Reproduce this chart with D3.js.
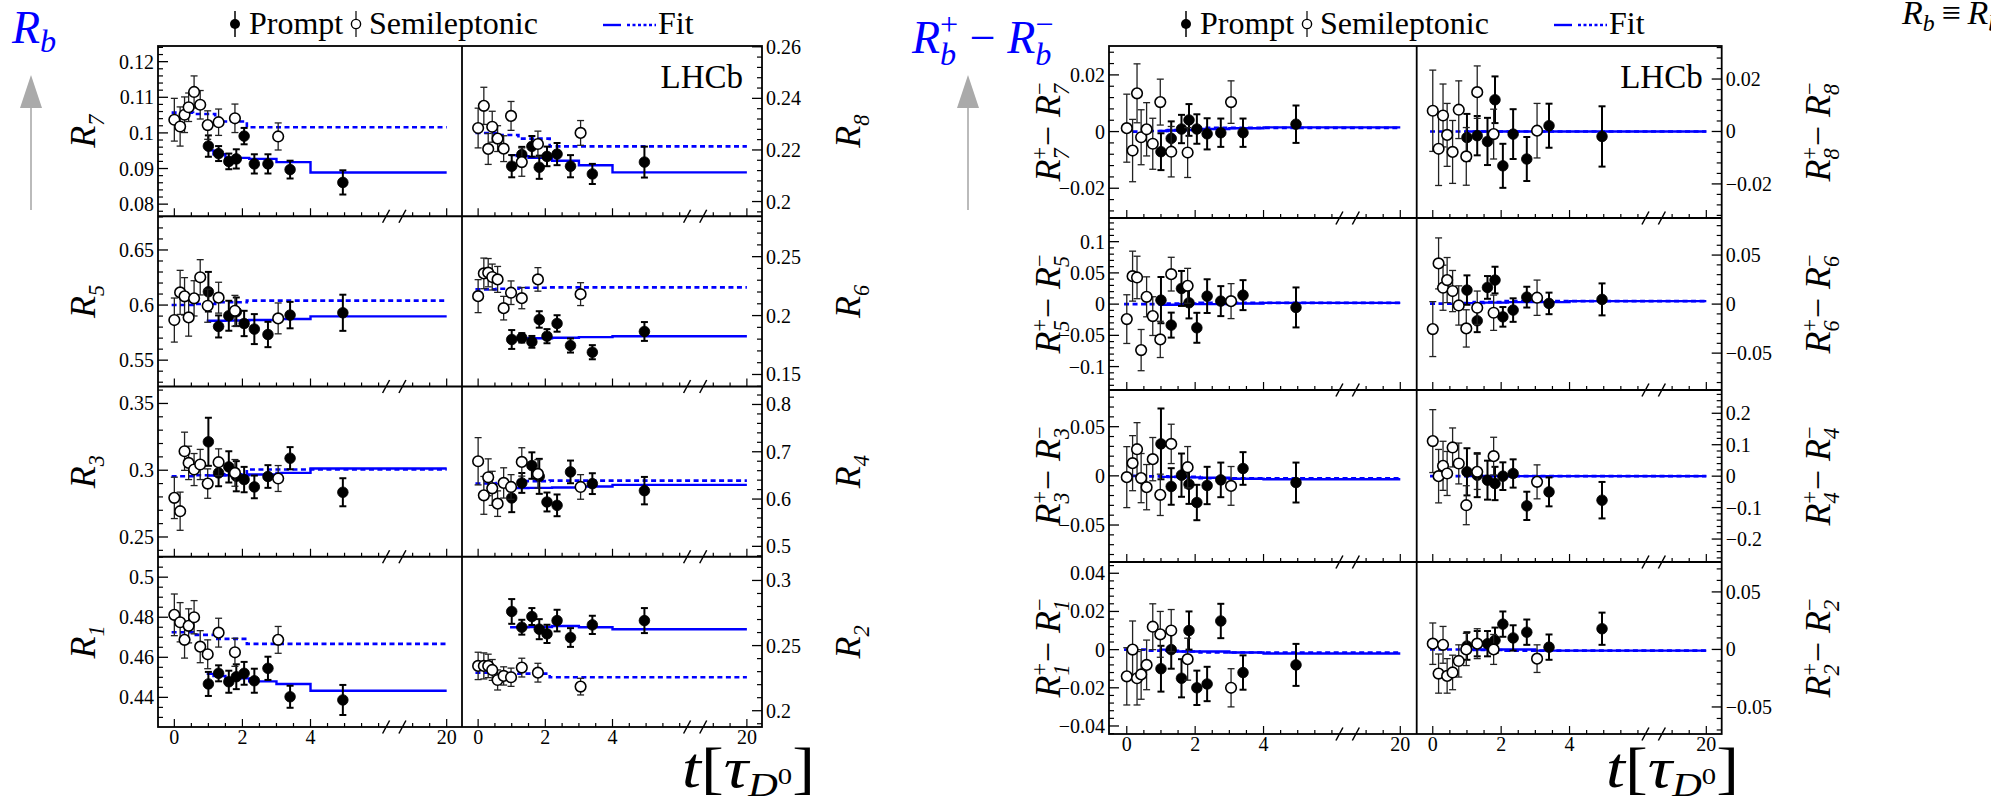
<!DOCTYPE html>
<html><head><meta charset="utf-8">
<script src="https://cdn.jsdelivr.net/npm/d3@7"></script>
<style>body{margin:0;background:#fff;} svg{display:block;font-family:"Liberation Serif","Times New Roman",serif;}</style>
</head><body><svg id="c" width="1991" height="801"></svg>
<script>
// ---------- data ----------
const semiT   = [0.0, 0.17, 0.3, 0.42, 0.58, 0.76, 0.98, 1.3, 1.78, 3.05];
const promptT = [1.0, 1.3, 1.6, 1.82, 2.05, 2.35, 2.75, 3.4, 4.95];
const edgesPrompt = [0.95, 1.15, 1.5, 2.2, 3.0, 4.0, 20];
const edgesSemi   = [-0.08, 0.55, 1.2, 2.13, 20];
const xTickVals = [0, 2, 4, 20];
const xTickText = ["0", "2", "4", "20"];

const R7_semi = [0.1037, 0.1018, 0.1051, 0.1072, 0.1115, 0.1079, 0.1022, 0.1030, 0.1041, 0.0990];
const R7_semiErr = [0.0060, 0.0055, 0.0050, 0.0040, 0.0045, 0.0040, 0.0040, 0.0037, 0.0040, 0.0038];
const R7_prompt = [0.0963, 0.0942, 0.0920, 0.0927, 0.0991, 0.0913, 0.0913, 0.0897, 0.0861];
const R7_promptErr = [0.0030, 0.0021, 0.0022, 0.0027, 0.0023, 0.0027, 0.0027, 0.0025, 0.0034];
const R7_fitPrompt = [0.0951, 0.0940, 0.0930, 0.0927, 0.0918, 0.0889];
const R7_fitSemi = [0.1057, 0.1053, 0.1032, 0.1016];

const R8_semi = [0.2285, 0.2371, 0.2204, 0.2290, 0.2244, 0.2205, 0.2332, 0.2153, 0.2223, 0.2266];
const R8_semiErr = [0.0077, 0.0072, 0.006, 0.006, 0.005, 0.005, 0.0056, 0.0055, 0.005, 0.0048];
const R8_prompt = [0.2137, 0.2182, 0.2214, 0.2133, 0.2175, 0.2184, 0.2137, 0.2107, 0.2153];
const R8_promptErr = [0.0043, 0.003, 0.004, 0.0045, 0.0038, 0.0043, 0.0043, 0.0039, 0.006];
const R8_fitPrompt = [0.2180, 0.2176, 0.2170, 0.2158, 0.2141, 0.2113];
const R8_fitSemi = [0.2266, 0.2258, 0.2244, 0.2214];

const R5_semi = [0.5864, 0.6115, 0.6079, 0.5888, 0.6061, 0.6252, 0.5994, 0.6067, 0.5948, 0.5879];
const R5_semiErr = [0.020, 0.020, 0.017, 0.017, 0.016, 0.016, 0.015, 0.014, 0.014, 0.014];
const R5_prompt = [0.6121, 0.5806, 0.5903, 0.5939, 0.5833, 0.5782, 0.5733, 0.5909, 0.5930];
const R5_promptErr = [0.018, 0.010, 0.0136, 0.013, 0.0115, 0.0136, 0.0115, 0.012, 0.0164];
const R5_fitPrompt = [0.5857, 0.5858, 0.5860, 0.5865, 0.5873, 0.5897];
const R5_fitSemi = [0.6000, 0.6010, 0.6025, 0.6040];

const R6_semi = [0.2165, 0.2358, 0.2364, 0.2327, 0.2307, 0.2063, 0.2194, 0.2148, 0.2307, 0.2182];
const R6_semiErr = [0.014, 0.013, 0.012, 0.011, 0.011, 0.010, 0.010, 0.009, 0.010, 0.0097];
const R6_prompt = [0.1797, 0.1811, 0.1777, 0.1967, 0.1825, 0.1933, 0.1746, 0.1689, 0.1865];
const R6_promptErr = [0.008, 0.004, 0.005, 0.007, 0.006, 0.007, 0.006, 0.006, 0.008];
const R6_fitPrompt = [0.1800, 0.1803, 0.1808, 0.1812, 0.1817, 0.1825];
const R6_fitSemi = [0.2222, 0.2228, 0.2236, 0.2239];

const R3_semi = [0.2793, 0.2693, 0.3142, 0.3055, 0.3005, 0.3043, 0.2900, 0.3060, 0.2980, 0.2938];
const R3_semiErr = [0.0155, 0.0143, 0.0143, 0.0125, 0.012, 0.0113, 0.011, 0.010, 0.010, 0.0097];
const R3_prompt = [0.3213, 0.2980, 0.3025, 0.2955, 0.2930, 0.2875, 0.2953, 0.3090, 0.2835];
const R3_promptErr = [0.018, 0.010, 0.0117, 0.0113, 0.0095, 0.0085, 0.0085, 0.0083, 0.0105];
const R3_fitPrompt = [0.2960, 0.2960, 0.2962, 0.2968, 0.2980, 0.3013];
const R3_fitSemi = [0.2955, 0.2962, 0.2970, 0.3005];

const R4_semi = [0.6799, 0.6078, 0.6460, 0.6227, 0.5903, 0.6341, 0.6256, 0.6785, 0.6532, 0.6256];
const R4_semiErr = [0.050, 0.040, 0.039, 0.036, 0.027, 0.032, 0.026, 0.030, 0.030, 0.026];
const R4_prompt = [0.6023, 0.6341, 0.6708, 0.6480, 0.5938, 0.5867, 0.6574, 0.6326, 0.6178];
const R4_promptErr = [0.030, 0.021, 0.028, 0.037, 0.020, 0.023, 0.024, 0.022, 0.029];
const R4_fitPrompt = [0.6235, 0.6235, 0.6237, 0.6245, 0.6265, 0.6300];
const R4_fitSemi = [0.6330, 0.6340, 0.6380, 0.6390];

const R1_semi = [0.4812, 0.4775, 0.4687, 0.4757, 0.4800, 0.4653, 0.4615, 0.4723, 0.4625, 0.4687];
const R1_semiErr = [0.0104, 0.0098, 0.0091, 0.0085, 0.0083, 0.008, 0.0072, 0.0072, 0.007, 0.0067];
const R1_prompt = [0.4467, 0.4520, 0.4478, 0.4503, 0.4520, 0.4483, 0.4545, 0.4403, 0.4387];
const R1_promptErr = [0.006, 0.004, 0.0055, 0.0062, 0.0057, 0.006, 0.0058, 0.0055, 0.0075];
const R1_fitPrompt = [0.4517, 0.4507, 0.4495, 0.4480, 0.4467, 0.4433];
const R1_fitSemi = [0.4725, 0.4712, 0.4692, 0.4667];

const R2_semi = [0.2344, 0.2344, 0.2344, 0.2313, 0.2236, 0.2267, 0.2257, 0.2331, 0.2292, 0.2185];
const R2_semiErr = [0.0105, 0.010, 0.009, 0.008, 0.0077, 0.007, 0.007, 0.0072, 0.0072, 0.0064];
const R2_prompt = [0.2762, 0.2641, 0.2723, 0.2626, 0.2590, 0.2692, 0.2562, 0.2659, 0.2692];
const R2_promptErr = [0.0095, 0.0057, 0.0065, 0.0077, 0.007, 0.0083, 0.0072, 0.007, 0.0096];
const R2_fitPrompt = [0.2641, 0.2641, 0.2643, 0.2650, 0.2641, 0.2626];
const R2_fitSemi = [0.2292, 0.2290, 0.2285, 0.2257];

const dR7_semi = [0.0012, -0.0067, 0.0135, -0.0020, 0.0008, -0.0043, 0.0104, -0.0071, -0.0074, 0.0104];
const dR7_semiErr = [0.012, 0.011, 0.0104, 0.0097, 0.0094, 0.009, 0.0081, 0.0089, 0.0088, 0.0075];
const dR7_prompt = [-0.0071, -0.0024, 0.0009, 0.0041, 0.0009, -0.0008, -0.0004, -0.0004, 0.0026];
const dR7_promptErr = [0.0065, 0.006, 0.005, 0.0056, 0.0052, 0.0055, 0.005, 0.005, 0.0066];
const dR7_fitPrompt = [0.0002, 0.0004, 0.0006, 0.0009, 0.0012, 0.0015];
const dR7_fitSemi = [0.0000, 0.0002, 0.0005, 0.0013];

const dR8_semi = [0.0079, -0.0066, 0.0061, -0.0013, -0.0078, 0.0083, -0.0095, 0.0150, -0.0010, 0.0003];
const dR8_semiErr = [0.0155, 0.014, 0.012, 0.012, 0.012, 0.011, 0.011, 0.010, 0.0095, 0.0104];
const dR8_prompt = [-0.0023, -0.0016, -0.0038, 0.0121, -0.0131, -0.0010, -0.0105, 0.0022, -0.0019];
const dR8_promptErr = [0.009, 0.0075, 0.009, 0.0089, 0.0084, 0.0095, 0.0084, 0.0084, 0.0115];
const dR8_fitPrompt = [0.0, 0.0, 0.0, 0.0, 0.0, 0.0];
const dR8_fitSemi = [0.0, 0.0, 0.0, 0.0];

const dR5_semi = [-0.0240, 0.0448, 0.0427, -0.0736, 0.0117, -0.0192, -0.0565, 0.0480, 0.0293, 0.0048];
const dR5_semiErr = [0.039, 0.040, 0.034, 0.033, 0.032, 0.031, 0.029, 0.027, 0.028, 0.028];
const dR5_prompt = [0.0064, -0.0336, 0.0251, 0.0021, -0.0379, 0.0128, 0.0048, 0.0144, -0.0053];
const dR5_promptErr = [0.037, 0.020, 0.028, 0.025, 0.024, 0.027, 0.024, 0.024, 0.032];
const dR5_fitPrompt = [-0.001, -0.001, 0.000, 0.000, 0.001, 0.002];
const dR5_fitSemi = [0.000, 0.000, 0.001, 0.002];

const dR6_semi = [-0.0255, 0.0415, 0.0167, 0.0245, 0.0133, -0.0014, -0.0248, -0.0037, -0.0088, 0.0065];
const dR6_semiErr = [0.028, 0.026, 0.023, 0.023, 0.021, 0.020, 0.019, 0.017, 0.018, 0.018];
const dR6_prompt = [0.0143, -0.0170, 0.0170, 0.0245, -0.0130, -0.0061, 0.0071, 0.0007, 0.0048];
const dR6_promptErr = [0.015, 0.0116, 0.0116, 0.0136, 0.010, 0.012, 0.0106, 0.011, 0.0163];
const dR6_fitPrompt = [0.001, 0.001, 0.0015, 0.002, 0.002, 0.003];
const dR6_fitSemi = [0.0005, 0.001, 0.002, 0.003];

const dR3_semi = [-0.0013, 0.0129, 0.0271, -0.0023, -0.0115, 0.0170, -0.0193, 0.0325, 0.0088, -0.0102];
const dR3_semiErr = [0.031, 0.028, 0.027, 0.025, 0.023, 0.022, 0.021, 0.020, 0.021, 0.0197];
const dR3_prompt = [0.0325, -0.0108, 0.0007, -0.0085, -0.0271, -0.0098, -0.0041, 0.0075, -0.0068];
const dR3_promptErr = [0.036, 0.0186, 0.022, 0.020, 0.018, 0.019, 0.0176, 0.0166, 0.0203];
const dR3_fitPrompt = [-0.001, -0.001, -0.0015, -0.002, -0.003, -0.0035];
const dR3_fitSemi = [0.000, -0.0005, -0.001, -0.0025];

const dR4_semi = [0.1115, 0.0000, 0.0329, 0.0085, 0.0913, 0.0403, -0.0924, 0.0138, 0.0637, -0.0181];
const dR4_semiErr = [0.100, 0.085, 0.078, 0.070, 0.062, 0.065, 0.062, 0.056, 0.060, 0.054];
const dR4_prompt = [0.0138, 0.0032, -0.0127, -0.0233, 0.0000, 0.0085, -0.0945, -0.0500, -0.0764];
const dR4_promptErr = [0.075, 0.070, 0.062, 0.053, 0.044, 0.045, 0.045, 0.046, 0.058];
const dR4_fitPrompt = [0.0, 0.0, 0.0, 0.0, 0.0, 0.0];
const dR4_fitSemi = [0.0, 0.0, 0.0, 0.0];

const dR1_semi = [-0.014, 0.000, -0.015, -0.013, -0.008, 0.012, 0.008, 0.010, -0.005, -0.020];
const dR1_semiErr = [0.015, 0.015, 0.014, 0.013, 0.013, 0.012, 0.012, 0.011, 0.011, 0.010];
const dR1_prompt = [-0.010, 0.000, -0.015, 0.010, -0.020, -0.018, 0.015, -0.012, -0.008];
const dR1_promptErr = [0.012, 0.010, 0.010, 0.010, 0.009, 0.009, 0.009, 0.009, 0.011];
const dR1_fitPrompt = [0.000, -0.0005, -0.001, -0.001, -0.0015, -0.002];
const dR1_fitSemi = [0.000, -0.0005, -0.001, -0.0015];

const dR2_semi = [0.005, -0.021, 0.004, -0.023, -0.020, -0.010, 0.000, 0.005, 0.000, -0.008];
const dR2_semiErr = [0.018, 0.017, 0.016, 0.015, 0.015, 0.014, 0.014, 0.013, 0.013, 0.012];
const dR2_prompt = [0.003, 0.005, 0.005, 0.008, 0.022, 0.010, 0.015, 0.002, 0.018];
const dR2_promptErr = [0.012, 0.011, 0.011, 0.011, 0.011, 0.011, 0.011, 0.011, 0.014];
const dR2_fitPrompt = [0.000, 0.000, 0.000, 0.000, -0.001, -0.001];
const dR2_fitSemi = [0.000, 0.000, -0.0005, -0.001];

// axis ranges per sub-plot: [min, max, major step, minor step]
const axisR7 = [0.0766, 0.1244, 0.01, 0.002];
const axisR8 = [0.1943, 0.2603, 0.02, 0.004];
const axisR5 = [0.5261, 0.6806, 0.05, 0.01];
const axisR6 = [0.1398, 0.2843, 0.05, 0.01];
const axisR3 = [0.2352, 0.3627, 0.05, 0.01];
const axisR4 = [0.478, 0.838, 0.1, 0.02];
const axisR1 = [0.4252, 0.5102, 0.02, 0.005];
const axisR2 = [0.1875, 0.3182, 0.05, 0.01];
const axisdR7 = [-0.0305, 0.0302, 0.02, 0.004];
const axisdR8 = [-0.0330, 0.0326, 0.02, 0.004];
const axisdR5 = [-0.1375, 0.1379, 0.05, 0.01];
const axisdR6 = [-0.0876, 0.0878, 0.05, 0.01];
const axisdR3 = [-0.0876, 0.0873, 0.05, 0.01];
const axisdR4 = [-0.273, 0.274, 0.1, 0.02];
const axisdR1 = [-0.0442, 0.0459, 0.02, 0.004];
const axisdR2 = [-0.0735, 0.0760, 0.05, 0.01];

const plotsLeft  = ["R7","R8","R5","R6","R3","R4","R1","R2"];
const plotsRight = ["dR7","dR8","dR5","dR6","dR3","dR4","dR1","dR2"];
const labelIndex = ["7","8","5","6","3","4","1","2"];

const DATA = {
 R7:{s:R7_semi,se:R7_semiErr,p:R7_prompt,pe:R7_promptErr,fp:R7_fitPrompt,fs:R7_fitSemi,ax:axisR7},
 R8:{s:R8_semi,se:R8_semiErr,p:R8_prompt,pe:R8_promptErr,fp:R8_fitPrompt,fs:R8_fitSemi,ax:axisR8},
 R5:{s:R5_semi,se:R5_semiErr,p:R5_prompt,pe:R5_promptErr,fp:R5_fitPrompt,fs:R5_fitSemi,ax:axisR5},
 R6:{s:R6_semi,se:R6_semiErr,p:R6_prompt,pe:R6_promptErr,fp:R6_fitPrompt,fs:R6_fitSemi,ax:axisR6},
 R3:{s:R3_semi,se:R3_semiErr,p:R3_prompt,pe:R3_promptErr,fp:R3_fitPrompt,fs:R3_fitSemi,ax:axisR3},
 R4:{s:R4_semi,se:R4_semiErr,p:R4_prompt,pe:R4_promptErr,fp:R4_fitPrompt,fs:R4_fitSemi,ax:axisR4},
 R1:{s:R1_semi,se:R1_semiErr,p:R1_prompt,pe:R1_promptErr,fp:R1_fitPrompt,fs:R1_fitSemi,ax:axisR1},
 R2:{s:R2_semi,se:R2_semiErr,p:R2_prompt,pe:R2_promptErr,fp:R2_fitPrompt,fs:R2_fitSemi,ax:axisR2},
 dR7:{s:dR7_semi,se:dR7_semiErr,p:dR7_prompt,pe:dR7_promptErr,fp:dR7_fitPrompt,fs:dR7_fitSemi,ax:axisdR7},
 dR8:{s:dR8_semi,se:dR8_semiErr,p:dR8_prompt,pe:dR8_promptErr,fp:dR8_fitPrompt,fs:dR8_fitSemi,ax:axisdR8},
 dR5:{s:dR5_semi,se:dR5_semiErr,p:dR5_prompt,pe:dR5_promptErr,fp:dR5_fitPrompt,fs:dR5_fitSemi,ax:axisdR5},
 dR6:{s:dR6_semi,se:dR6_semiErr,p:dR6_prompt,pe:dR6_promptErr,fp:dR6_fitPrompt,fs:dR6_fitSemi,ax:axisdR6},
 dR3:{s:dR3_semi,se:dR3_semiErr,p:dR3_prompt,pe:dR3_promptErr,fp:dR3_fitPrompt,fs:dR3_fitSemi,ax:axisdR3},
 dR4:{s:dR4_semi,se:dR4_semiErr,p:dR4_prompt,pe:dR4_promptErr,fp:dR4_fitPrompt,fs:dR4_fitSemi,ax:axisdR4},
 dR1:{s:dR1_semi,se:dR1_semiErr,p:dR1_prompt,pe:dR1_promptErr,fp:dR1_fitPrompt,fs:dR1_fitSemi,ax:axisdR1},
 dR2:{s:dR2_semi,se:dR2_semiErr,p:dR2_prompt,pe:dR2_promptErr,fp:dR2_fitPrompt,fs:dR2_fitSemi,ax:axisdR2}
};

// ---------- layout ----------
const BLUE = "#0000ff";
const svg = d3.select("#c");
const panelL = {x0:158, xm:462, x1:762, y0:46, y1:727, colDom:[[-0.48,8.45],[-0.48,8.45]],
  labX:[95, 860], lab:"single", labFs:36, legendDX:0, titleX:682};
const panelR = {x0:1109, xm:1416.7, x1:1721.7, y0:46, y1:734, colDom:[[-0.52,8.48],[-0.47,8.45]],
  labX:[1060, 1830], lab:"diff", labFs:36, legendDX:951, titleX:1606};

function fmt(v){ const s = String(parseFloat(v.toFixed(6))); return s.replace("-", "\u2212"); }
function tickVals(lo, hi, step){
  const a = Math.ceil(lo/step - 1e-9), b = Math.floor(hi/step + 1e-9);
  return d3.range(a, b+1).map(i => +(i*step).toFixed(6));
}
// rich text: parts laid out horizontally
function rich(g, parts, fs, anchor, fill){
  let x = 0, lastX = 0;
  const nodes = [];
  parts.forEach(p => {
    const t = g.append("text").attr("font-size", fs*(p.s||1))
      .attr("font-style", p.i ? "italic" : "normal").attr("fill", fill||"#000")
      .style("white-space","pre").text(p.t);
    const w = t.node().getComputedTextLength();
    let px;
    if (p.stack){ px = lastX; x = Math.max(x, px + w); }
    else { px = x + (p.dx||0)*fs; lastX = px; x = px + w; }
    t.attr("x", px).attr("y", (p.dy||0)*fs);
    nodes.push(t);
  });
  const shift = anchor === "middle" ? -x/2 : anchor === "end" ? -x : 0;
  nodes.forEach(n => n.attr("x", +n.attr("x") + shift));
  return x;
}
const SUB = 0.24, SUP = -0.36, SS = 0.62;

function drawPanel(P, names){
  const rh = (P.y1 - P.y0)/4;
  names.forEach((name, k) => {
    const row = Math.floor(k/2), col = k % 2;
    const D = DATA[name];
    const top = P.y0 + row*rh, bot = top + rh;
    const cx0 = col === 0 ? P.x0 : P.xm, cx1 = col === 0 ? P.xm : P.x1;
    const x = d3.scaleLinear().domain(P.colDom[col]).range([cx0, cx1]);
    const X = t => x(t > 6 ? 8 : t);
    const y = d3.scaleLinear().domain([D.ax[0], D.ax[1]]).range([bot, top]);
    const g = svg.append("g");

    // y axis ticks
    const ax = col === 0 ? cx0 : cx1, sg = col === 0 ? 1 : -1;
    const majors = tickVals(D.ax[0], D.ax[1], D.ax[2]);
    const minors = tickVals(D.ax[0], D.ax[1], D.ax[3]).filter(v => !majors.some(m => Math.abs(m - v) < 1e-9));
    minors.forEach(v => g.append("line").attr("x1", ax).attr("x2", ax + sg*5).attr("y1", y(v)).attr("y2", y(v)).attr("stroke","#000").attr("stroke-width",1.2));
    majors.forEach(v => {
      g.append("line").attr("x1", ax).attr("x2", ax + sg*10).attr("y1", y(v)).attr("y2", y(v)).attr("stroke","#000").attr("stroke-width",1.3);
      g.append("text").attr("x", ax - sg*4).attr("y", y(v)).attr("dy","0.35em")
        .attr("text-anchor", col === 0 ? "end" : "start").attr("font-size", 20).text(fmt(v));
    });

    // x axis ticks at bottom of sub-plot
    d3.range(0, 8.01, 0.5).filter(v => v !== 6.5).forEach(v => {
      const major = (v % 2 === 0 && v !== 6);
      g.append("line").attr("x1", x(v)).attr("x2", x(v)).attr("y1", bot).attr("y2", bot - (major ? 8 : 4))
        .attr("stroke","#000").attr("stroke-width",1.2);
    });
    // break marks
    [6.22, 6.7].forEach(v => g.append("line").attr("x1", x(v) - 3.5).attr("y1", bot + 6.5)
      .attr("x2", x(v) + 3.5).attr("y2", bot - 6.5).attr("stroke","#000").attr("stroke-width",1.5));
    if (row === 3){
      xTickVals.forEach((v, i) => g.append("text").attr("x", X(v)).attr("y", bot + 17).attr("text-anchor","middle")
        .attr("font-size", 20).text(xTickText[i]));
    }

    // fits
    const line = d3.line().x(d => X(d[0])).y(d => y(d[1])).curve(d3.curveStepAfter);
    const fp = edgesPrompt.map((e, i) => [e, D.fp[Math.min(i, D.fp.length - 1)]]);
    const fsm = edgesSemi.map((e, i) => [e, D.fs[Math.min(i, D.fs.length - 1)]]);
    g.append("path").attr("d", line(fsm)).attr("fill","none").attr("stroke", BLUE).attr("stroke-width",2.6).attr("stroke-dasharray","5,3.5");
    g.append("path").attr("d", line(fp)).attr("fill","none").attr("stroke", BLUE).attr("stroke-width",2.4);

    // error bars + markers
    function pts(ts, vs, es, filled){
      ts.forEach((t, i) => {
        const xx = X(t), yl = y(vs[i] - es[i]), yh = y(vs[i] + es[i]);
        const w = filled ? 2 : 1.3, c = filled ? "#000" : "#222";
        g.append("line").attr("x1",xx).attr("x2",xx).attr("y1",yl).attr("y2",yh).attr("stroke",c).attr("stroke-width",w);
        [yl, yh].forEach(yy => g.append("line").attr("x1",xx-3.5).attr("x2",xx+3.5).attr("y1",yy).attr("y2",yy).attr("stroke",c).attr("stroke-width",w));
      });
      ts.forEach((t, i) => {
        g.append("circle").attr("cx", X(t)).attr("cy", y(vs[i])).attr("r", 5.3)
          .attr("fill", filled ? "#000" : "#fff").attr("stroke","#000").attr("stroke-width", filled ? 0.8 : 1.6);
      });
    }
    pts(promptT, D.p, D.pe, true);
    pts(semiT, D.s, D.se, false);

    // y label
    const idx = labelIndex[k];
    const lg = svg.append("g").attr("transform", `translate(${P.labX[col]},${(top+bot)/2}) rotate(-90)`);
    if (P.lab === "single"){
      rich(lg, [{t:"R", i:1}, {t:idx, i:1, s:SS, dy:SUB}], P.labFs, "middle");
    } else {
      rich(lg, [{t:"R", i:1}, {t:"+", s:SS, dy:SUP}, {t:idx, i:1, s:SS, dy:SUB, stack:1},
        {t:"\u2212 ", dx:0.02}, {t:"R", i:1}, {t:"\u2212", s:SS, dy:SUP}, {t:idx, i:1, s:SS, dy:SUB, stack:1}], P.labFs, "middle");
    }
  });

  // frames
  svg.append("rect").attr("x",P.x0).attr("y",P.y0).attr("width",P.x1-P.x0).attr("height",P.y1-P.y0)
    .attr("fill","none").attr("stroke","#000").attr("stroke-width",1.8);
  svg.append("line").attr("x1",P.xm).attr("x2",P.xm).attr("y1",P.y0).attr("y2",P.y1).attr("stroke","#000").attr("stroke-width",1.8);
  [1,2,3].forEach(r => svg.append("line").attr("x1",P.x0).attr("x2",P.x1).attr("y1",P.y0+r*rh).attr("y2",P.y0+r*rh)
    .attr("stroke","#000").attr("stroke-width",1.8));

  // LHCb
  svg.append("text").attr("x", P.x1 - 19).attr("y", 88).attr("text-anchor","end").attr("font-size",33).text("LHCb");

  // legend
  const L = svg.append("g").attr("transform", `translate(${P.legendDX},0)`);
  L.append("line").attr("x1",235).attr("x2",235).attr("y1",11).attr("y2",37).attr("stroke","#000").attr("stroke-width",1.5);
  L.append("circle").attr("cx",235).attr("cy",24).attr("r",5).attr("fill","#000");
  L.append("text").attr("x",249).attr("y",34).attr("font-size",32).text("Prompt");
  L.append("line").attr("x1",356).attr("x2",356).attr("y1",11).attr("y2",37).attr("stroke","#000").attr("stroke-width",1.2);
  L.append("circle").attr("cx",356).attr("cy",24).attr("r",4.6).attr("fill","#fff").attr("stroke","#000").attr("stroke-width",1.4);
  L.append("text").attr("x",369).attr("y",34).attr("font-size",32).text("Semileptonic");
  L.append("line").attr("x1",603).attr("x2",621).attr("y1",25).attr("y2",25).attr("stroke",BLUE).attr("stroke-width",2.4);
  L.append("line").attr("x1",627).attr("x2",656).attr("y1",25).attr("y2",25).attr("stroke",BLUE).attr("stroke-width",2.4).attr("stroke-dasharray","3,2.5");
  L.append("text").attr("x",658).attr("y",34).attr("font-size",32).text("Fit");

  // x title (slightly widened, like the LaTeX face of the reference)
  const xt = svg.append("g").attr("transform", `translate(${P.titleX},787) scale(1.22,1)`);
  rich(xt, [{t:"t", i:1}, {t:"["}, {t:"\u03c4", i:1}, {t:"D", i:1, s:0.6, dy:0.16}, {t:"0", s:0.42, dy:-0.06}, {t:"]"}], 56, "start");
}

drawPanel(panelL, plotsLeft);
drawPanel(panelR, plotsRight);

// blue titles and grey arrows
const t1 = svg.append("g").attr("transform","translate(12,43)");
rich(t1, [{t:"R", i:1}, {t:"b", i:1, s:0.7, dy:0.2}], 46, "start", BLUE);
const t2 = svg.append("g").attr("transform","translate(912,53)");
rich(t2, [{t:"R", i:1}, {t:"+", s:0.7, dy:-0.4}, {t:"b", i:1, s:0.7, dy:0.25, stack:1}, {t:" \u2212 "},
  {t:"R", i:1}, {t:"\u2212", s:0.7, dy:-0.4}, {t:"b", i:1, s:0.7, dy:0.25, stack:1}], 46, "start", BLUE);
[31, 968].forEach(ax => {
  svg.append("line").attr("x1",ax).attr("x2",ax).attr("y1",105).attr("y2",210).attr("stroke","#aaa").attr("stroke-width",1.6);
  svg.append("path").attr("d", `M${ax-11},108 L${ax},75 L${ax+11},108 Z`).attr("fill","#aaa");
});
// top-right definition (runs past the canvas edge, as in the reference)
const t3 = svg.append("g").attr("transform","translate(1902,24)");
rich(t3, [{t:"R", i:1}, {t:"b", i:1, s:0.7, dy:0.2}, {t:"\u2009\u2261\u2009"}, {t:"R", i:1}, {t:"b", i:1, s:0.7, dy:0.2},
  {t:"("}, {t:"D", i:1}, {t:"0", s:0.7, dy:-0.4}, {t:")"}], 34, "start");
</script></body></html>
